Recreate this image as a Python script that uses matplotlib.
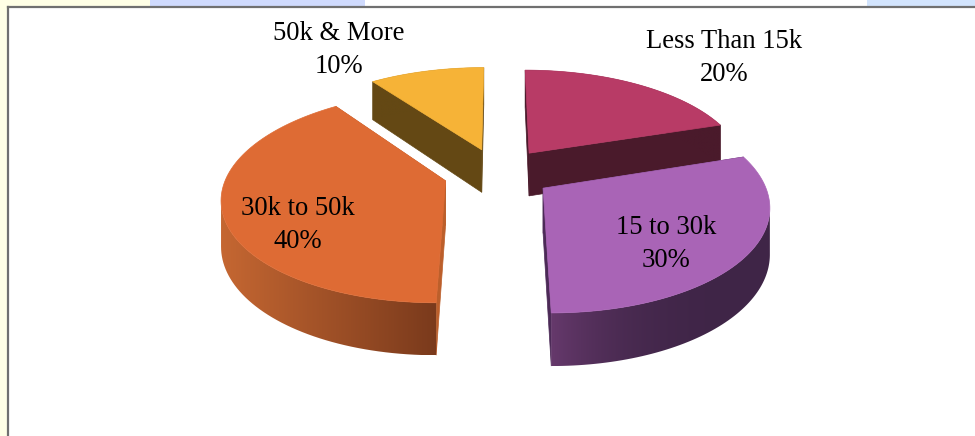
import matplotlib
matplotlib.use("Agg")
import matplotlib.pyplot as plt
from matplotlib.colors import to_rgb
from matplotlib.patches import Polygon, Rectangle
import numpy as np

plt.rcParams['font.family'] = ['Liberation Serif', 'DejaVu Serif']

# slices go clockwise from 12 o'clock
labels = ['Less Than 15k', '15 to 30k', '30k to 50k', '50k & More']
shares = [20, 30, 40, 10]
top_colors = ['#B83B66', '#A964B6', '#DE6B34', '#F6B337']
wall_colors = ['#4A1A2B', '#4C2A57', '#BC5F2B', '#644814']
rim_left_colors = ['#4A1A2B', '#66396C', '#C56732', '#644814']
rim_right_colors = ['#4A1A2B', '#3F2547', '#7A3A1C', '#644814']
rim_falloff = [1, 3, 1, 1]
label_pos = [(724, 58), (666, 244), (298, 225), (339, 50)]
draw_order = [3, 0, 2, 1]

# fake perspective of the pie, all in pixels
X0, Y0 = 498, 173
A, B = 218, 101
PERSP = 0.15
EXPLODE = 0.25
HEIGHT = 44


def project(u, v, low=False):
    s = 1 / (1 + PERSP * v)
    x = X0 + A * u * s
    y = Y0 - B * v * s
    if low:
        y = y + HEIGHT * s
    return x, y


fig = plt.figure(figsize=(9.75, 4.36), dpi=100)
ax = fig.add_axes([0, 0, 1, 1])
ax.axis('off')

# slide background showing around the frame
ax.add_patch(Rectangle((0, 0), 150, 6, color='#FFFFE6', lw=0))
ax.add_patch(Rectangle((0, 0), 7, 436, color='#FFFFE6', lw=0))
ax.add_patch(Rectangle((150, 0), 215, 6, color='#CFDAFD', lw=0))
ax.add_patch(Rectangle((867, 0), 108, 6, color='#D2E4FD', lw=0))
ax.plot([8, 975], [7, 7], color='#707070', lw=1.6)
ax.plot([8, 8], [7, 436], color='#707070', lw=1.6)

z = 3
bounds = np.cumsum([0] + shares) / sum(shares) * 2 * np.pi
for i in draw_order:
    t0, t1 = bounds[i], bounds[i + 1]
    mid = (t0 + t1) / 2
    cu, cv = EXPLODE * np.sin(mid), EXPLODE * np.cos(mid)
    th = np.linspace(t0, t1, 90)
    us = cu + np.sin(th)
    vs = cv + np.cos(th)

    # radial walls
    for t in (t0, t1):
        ru, rv = cu + np.sin(t), cv + np.cos(t)
        wall = [project(cu, cv), project(ru, rv), project(ru, rv, True), project(cu, cv, True)]
        ax.add_patch(Polygon(wall, fc=wall_colors[i], ec=wall_colors[i], lw=0.5, zorder=z))
        z += 1

    upper = [project(u, v) for u, v in zip(us, vs)]
    lower = [project(u, v, True) for u, v in zip(us, vs)]

    # the rim folds over at its widest point, which would punch a hole in the clip,
    # so only keep the part of the arc that faces the viewer
    k = int(np.argmax(np.abs(np.array(upper)[:, 0] - X0)))
    pieces = [p for p in (range(0, k + 1), range(k, len(th))) if len(p) > 1]
    keep = max(pieces, key=lambda p: np.mean([upper[n][1] for n in p]))
    up = [upper[n] for n in keep]
    lo = [lower[n] for n in keep]

    # outer rim, a left to right gradient clipped to the rim outline
    rim = Polygon(up + lo[::-1], fc='none', ec='none', transform=ax.transData)
    ax.add_patch(rim)
    xs = np.array(up + lo)[:, 0]
    ys = np.array(up + lo)[:, 1]
    f = np.linspace(0, 1, 256)
    f = 1 - (1 - f) ** rim_falloff[i]
    left = np.array(to_rgb(rim_left_colors[i]))
    right = np.array(to_rgb(rim_right_colors[i]))
    grad = (left[None, :] * (1 - f[:, None]) + right[None, :] * f[:, None])[None, :, :]
    im = ax.imshow(grad, extent=(xs.min(), xs.max(), ys.max(), ys.min()), aspect='auto',
                   interpolation='bilinear', zorder=z)
    im.set_clip_path(rim)
    z += 1

    top = [project(cu, cv)] + upper
    ax.add_patch(Polygon(top, fc=top_colors[i], ec=top_colors[i], lw=0.5, zorder=z))
    z += 1

ax.set_xlim(0, 975)
ax.set_ylim(436, 0)

for name, share, pos in zip(labels, shares, label_pos):
    ax.text(pos[0], pos[1], f'{name}\n{share}%', ha='center', va='center',
            fontsize=19.2, color='#000000', linespacing=1.38, zorder=z)

fig.savefig('out.png', dpi=100)
